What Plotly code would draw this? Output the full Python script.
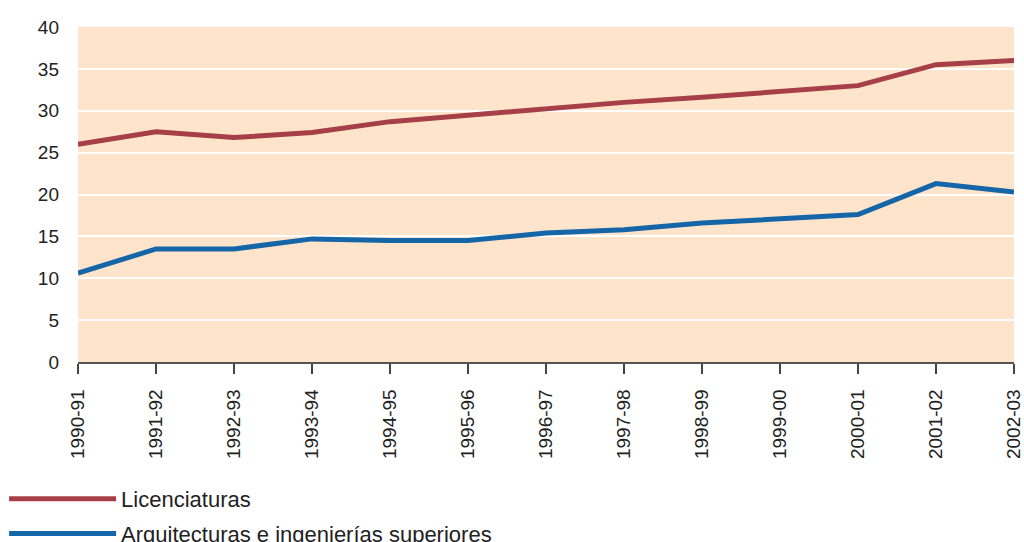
import plotly.graph_objects as go

years = ["1990-91", "1991-92", "1992-93", "1993-94", "1994-95", "1995-96", "1996-97",
         "1997-98", "1998-99", "1999-00", "2000-01", "2001-02", "2002-03"]
licenciaturas = [26.0, 27.5, 26.8, 27.4, 28.7, 29.5, 30.3, 31.0, 31.6, 32.3, 33.0, 35.5, 36.0]
arquitecturas = [10.6, 13.5, 13.5, 14.7, 14.5, 14.5, 15.4, 15.8, 16.6, 17.1, 17.6, 21.3, 20.3]

fig = go.Figure()
fig.add_trace(go.Scatter(x=years, y=licenciaturas, mode="lines", name="Licenciaturas",
                         legendgroup="a",
                         line=dict(color="#A63F47", width=5)))
fig.add_trace(go.Scatter(x=years, y=arquitecturas, mode="lines",
                         name="Arquitecturas e ingenierías superiores",
                         legendgroup="b",
                         line=dict(color="#1565A9", width=5)))

fig.update_layout(
    width=1024, height=542,
    margin=dict(l=78, r=10, t=27, b=180, autoexpand=False),
    paper_bgcolor="white",
    plot_bgcolor="#FDE4CA",
    font=dict(family="Liberation Sans, Arial, sans-serif", size=19, color="#222"),
    showlegend=True,
    legend=dict(
        xref="container", yref="container", x=0.004, y=0.118,
        xanchor="left", yanchor="top",
        font=dict(size=22, color="#222"),
        itemwidth=107, tracegroupgap=3, bgcolor="rgba(0,0,0,0)",
    ),
    xaxis=dict(
        type="category", range=[0, 12], showgrid=False, zeroline=False,
        showline=True, linecolor="#555", linewidth=1.5,
        ticks="outside", ticklen=10, tickcolor="#444", tickwidth=2,
        tickangle=-90, tickfont=dict(size=19), ticklabelstandoff=8,
    ),
    yaxis=dict(
        range=[0, 40], dtick=5, showgrid=True, gridcolor="white", gridwidth=2,
        zeroline=False, showline=False, ticks="", tickfont=dict(size=19),
        ticklabelstandoff=18,
    ),
)

fig.write_html("out.html", post_script="document.body.style.margin='0';",
               config={"displayModeBar": False})
